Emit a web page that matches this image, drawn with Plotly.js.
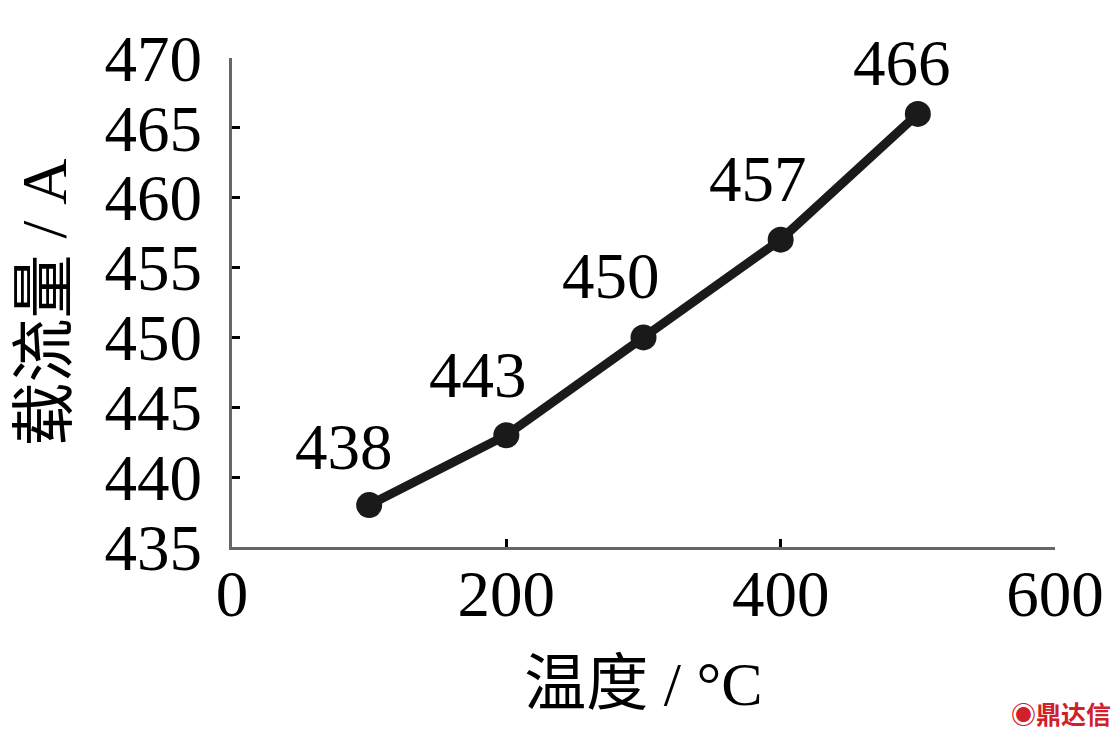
<!DOCTYPE html>
<html>
<head>
<meta charset="utf-8">
<script src="https://cdn.plot.ly/plotly-3.0.1.min.js"></script>
<style>
  html, body { margin: 0; padding: 0; background: #fff; }
  #chart { width: 1118px; height: 745px; }
</style>
</head>
<body>
<div id="chart"></div>
<script>
// temperature (°C) vs ampacity (A)
const temps = [100, 200, 300, 400, 500];
const ampacity = [438, 443, 450, 457, 466];
const pointLabels = ["438", "443", "450", "457", "466"];
const xTicks = [0, 200, 400, 600];
const yTicks = [435, 440, 445, 450, 455, 460, 465, 470];

const serif = "'Liberation Serif', 'Times New Roman', 'Noto Sans CJK SC', serif";
const ink = "#1a1a1a";

const trace = {
    x: temps,
    y: ampacity,
    type: "scatter",
    mode: "lines+markers",
    line: { color: ink, width: 9 },
    marker: { color: ink, size: 26 },
    hoverinfo: "skip",
    cliponaxis: false
};

// value labels sit up and to the left of each point
const labelShifts = [[-25, -58], [-28, -60], [-33, -61], [-23, -61], [-16, -51]];
const annotations = temps.map((t, i) => ({
    x: t,
    y: ampacity[i],
    text: pointLabels[i],
    showarrow: false,
    xshift: labelShifts[i][0],
    yshift: -labelShifts[i][1],
    font: { family: serif, size: 65, color: "#000" }
}));

// watermark
annotations.push({
    xref: "paper", yref: "paper",
    x: 1.07, y: -0.34,
    xanchor: "right", yanchor: "middle",
    text: "<b>◉鼎达信</b>",
    showarrow: false,
    font: { family: "'Noto Sans CJK SC', sans-serif", size: 25, color: "#d0202a" }
});

const layout = {
    width: 1118,
    height: 745,
    margin: { l: 232, r: 63, t: 58, b: 198 },
    paper_bgcolor: "#fff",
    plot_bgcolor: "#fff",
    showlegend: false,
    xaxis: {
        range: [0, 600],
        tickvals: xTicks,
        ticks: "inside",
        ticklen: 8,
        tickwidth: 3,
        tickcolor: "#000",
        showline: true,
        linecolor: "#666",
        linewidth: 3,
        showgrid: false,
        zeroline: false,
        ticklabelstandoff: -12,
        tickfont: { family: serif, size: 65, color: "#000" },
        title: {
            text: "温度 / °C",
            standoff: 33,
            font: { family: serif, size: 62, color: "#000" }
        }
    },
    yaxis: {
        range: [435, 470],
        tickvals: yTicks,
        ticks: "inside",
        ticklen: 8,
        tickwidth: 3,
        tickcolor: "#000",
        showline: true,
        linecolor: "#666",
        linewidth: 3,
        showgrid: false,
        zeroline: false,
        ticklabelstandoff: 14,
        tickfont: { family: serif, size: 65, color: "#000" },
        title: {
            text: "载流量 / A",
            standoff: 18,
            font: { family: serif, size: 64, color: "#000" }
        }
    },
    annotations: annotations
};

Plotly.newPlot("chart", [trace], layout, { staticPlot: true, displayModeBar: false });
</script>
</body>
</html>
